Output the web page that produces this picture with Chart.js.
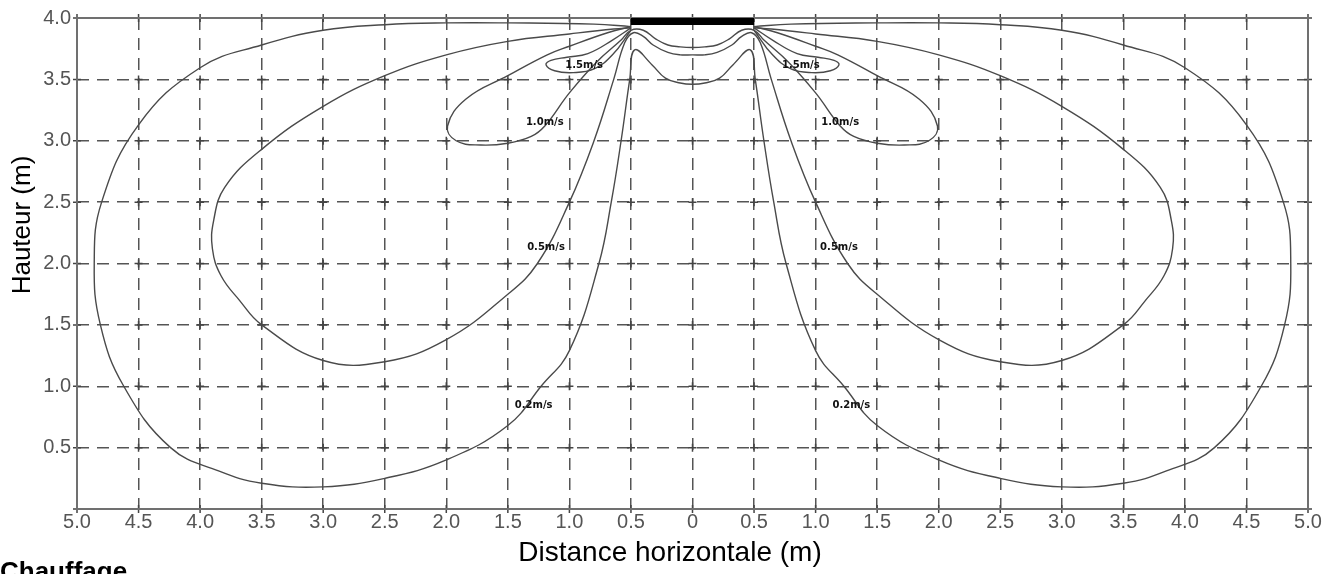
<!DOCTYPE html>
<html lang="fr">
<head>
    <meta charset="UTF-8">
    <title>Vitesses d'air - chauffage</title>
    <script src="https://cdn.jsdelivr.net/npm/chart.js"></script>
    <style>
        html, body { margin: 0; padding: 0; background: #fff; }
        #wrap { position: relative; width: 1342px; height: 574px; }
    </style>
</head>
<body>
<div id="wrap"><canvas id="myChart"></canvas></div>
<script>
    // Contours, left half only (x <= 0).
    // Each path starts at the heater corner, goes round the loop and ends at x = 0.
    const contour02 = [
        [-0.50, 3.93], [-0.80, 3.95], [-1.50, 3.96], [-2.00, 3.96], [-2.50, 3.945],
        [-3.00, 3.90], [-3.50, 3.78], [-4.00, 3.595], [-4.50, 3.13], [-4.80, 2.50],
        [-4.86, 2.00], [-4.81, 1.50], [-4.62, 1.00], [-4.24, 0.50], [-3.85, 0.31],
        [-3.50, 0.21], [-3.00, 0.18], [-2.50, 0.25], [-2.00, 0.40], [-1.50, 0.68],
        [-1.23, 1.00], [-1.00, 1.29], [-0.76, 2.00], [-0.66, 2.50], [-0.58, 3.00],
        [-0.51, 3.50], [-0.47, 3.74], [-0.33, 3.62], [-0.22, 3.51], [-0.10, 3.47],
        [0, 3.46]
    ];
    const contour05 = [
        [-0.50, 3.92], [-0.64, 3.91], [-1.00, 3.87], [-1.50, 3.81], [-2.00, 3.70],
        [-2.50, 3.53], [-3.00, 3.28], [-3.50, 2.93], [-3.80, 2.62], [-3.89, 2.35],
        [-3.90, 2.12], [-3.83, 1.90], [-3.68, 1.70], [-3.50, 1.50], [-3.00, 1.21],
        [-2.50, 1.20], [-2.00, 1.38], [-1.50, 1.75], [-1.26, 2.00], [-1.00, 2.50],
        [-0.80, 3.00], [-0.64, 3.50], [-0.55, 3.80], [-0.48, 3.88], [-0.40, 3.85],
        [-0.32, 3.78], [-0.20, 3.72], [-0.10, 3.70], [0, 3.70]
    ];
    const contour10 = [
        [-0.50, 3.93], [-0.69, 3.88], [-1.00, 3.77], [-1.18, 3.70], [-1.50, 3.53],
        [-1.84, 3.34], [-1.99, 3.12], [-1.92, 3.00], [-1.72, 2.965], [-1.50, 2.98],
        [-1.31, 3.035], [-1.20, 3.12], [-1.00, 3.39], [-0.78, 3.64], [-0.58, 3.82],
        [-0.50, 3.90], [-0.40, 3.90], [-0.30, 3.83], [-0.20, 3.78], [-0.10, 3.765],
        [0, 3.76]
    ];
    const contour15 = [
        [-0.50, 3.92], [-0.65, 3.82], [-0.85, 3.71], [-1.02, 3.68], [-1.15, 3.655],
        [-1.19, 3.62], [-1.12, 3.57], [-0.97, 3.555], [-0.80, 3.585], [-0.65, 3.70],
        [-0.50, 3.90]
    ];

    // contour labels (|x|, y), same on both sides
    const labelText = ['1.5m/s', '1.0m/s', '0.5m/s', '0.2m/s'];
    const labelX = [0.88, 1.20, 1.19, 1.29];
    const labelY = [3.61, 3.15, 2.13, 0.84];

    // the heater (black bar at the ceiling)
    const heaterX = [-0.5, 0.5];
    const heaterY = 3.972;

    const xTickLabels = ['5.0', '4.5', '4.0', '3.5', '3.0', '2.5', '2.0', '1.5', '1.0', '0.5', '0',
                         '0.5', '1.0', '1.5', '2.0', '2.5', '3.0', '3.5', '4.0', '4.5', '5.0'];
    const yTickLabels = ['', '0.5', '1.0', '1.5', '2.0', '2.5', '3.0', '3.5', '4.0'];

    // left half -> full symmetric path
    function fullPath(left) {
        const right = left.slice(0, -1).reverse().map(p => [-p[0], p[1]]);
        return left.concat(right).map(p => ({ x: p[0], y: p[1] }));
    }
    function toPoints(arr, sign) {
        return arr.map(p => ({ x: sign * p[0], y: p[1] }));
    }

    Chart.defaults.font.family = "'Liberation Sans', Arial, sans-serif";

    const lineStyle = {
        pointRadius: 0, borderColor: '#4a4a4a', borderWidth: 1.4,
        tension: 0.42, fill: false
    };

    // frame, grid crosses, texts
    const decor = {
        id: 'decor',
        beforeDatasetsDraw(chart) {
            const { ctx, chartArea: a, scales: { x, y } } = chart;
            ctx.save();
            ctx.strokeStyle = '#444';
            ctx.lineWidth = 1.5;
            x.ticks.forEach(tx => {
                y.ticks.forEach(ty => {
                    const px = x.getPixelForValue(tx.value);
                    const py = y.getPixelForValue(ty.value);
                    ctx.beginPath();
                    ctx.moveTo(px - 4, py); ctx.lineTo(px + 4, py);
                    ctx.moveTo(px, py - 4); ctx.lineTo(px, py + 4);
                    ctx.stroke();
                });
            });
            ctx.strokeStyle = '#707070';
            ctx.lineWidth = 2;
            ctx.strokeRect(a.left, a.top, a.right - a.left, a.bottom - a.top);
            ctx.restore();
        },
        afterDatasetsDraw(chart) {
            const { ctx, scales: { x, y } } = chart;
            ctx.save();
            ctx.font = "bold 10px 'DejaVu Sans'";
            ctx.fillStyle = '#111';
            ctx.textAlign = 'center';
            ctx.textBaseline = 'middle';
            labelText.forEach((t, i) => {
                ctx.fillText(t, x.getPixelForValue(-labelX[i]), y.getPixelForValue(labelY[i]));
                ctx.fillText(t, x.getPixelForValue(labelX[i]), y.getPixelForValue(labelY[i]));
            });

            ctx.fillStyle = '#000';
            ctx.font = "28px 'Liberation Sans', Arial, sans-serif";
            ctx.textAlign = 'center';
            ctx.textBaseline = 'alphabetic';
            ctx.fillText('Distance horizontale (m)', 670, 561);

            ctx.font = "26px 'Liberation Sans', Arial, sans-serif";
            ctx.save();
            ctx.translate(30, 225);
            ctx.rotate(-Math.PI / 2);
            ctx.fillText('Hauteur (m)', 0, 0);
            ctx.restore();

            ctx.font = "bold 26px 'Liberation Sans', Arial, sans-serif";
            ctx.textAlign = 'left';
            ctx.textBaseline = 'top';
            ctx.fillText('Chauffage', 0, 560);
            ctx.restore();
        }
    };

    const ctx = document.getElementById('myChart').getContext('2d');
    const chart = new Chart(ctx, {
        type: 'line',
        data: {
            datasets: [
                { ...lineStyle, label: '0.2 m/s', data: fullPath(contour02) },
                { ...lineStyle, label: '0.5 m/s', data: fullPath(contour05) },
                { ...lineStyle, label: '1.0 m/s', data: fullPath(contour10) },
                { ...lineStyle, label: '1.5 m/s (g)', data: toPoints(contour15, 1) },
                { ...lineStyle, label: '1.5 m/s (d)', data: toPoints(contour15, -1) },
                {
                    label: 'Chauffage', pointRadius: 0,
                    borderColor: '#000', borderWidth: 7, tension: 0,
                    data: heaterX.map(v => ({ x: v, y: heaterY }))
                }
            ]
        },
        options: {
            animation: false,
            responsive: true,
            maintainAspectRatio: false,
            layout: { padding: { top: 15, right: 34, bottom: 0, left: 0 } },
            plugins: { legend: { display: false }, tooltip: { enabled: false } },
            scales: {
                x: {
                    type: 'linear', min: -5, max: 5,
                    afterFit: s => { s.height = 65; },
                    ticks: {
                        stepSize: 0.5, autoSkip: false, maxRotation: 0, padding: 1,
                        color: '#555', font: { size: 20 },
                        callback: (v, i) => xTickLabels[i]
                    },
                    grid: { color: '#555', lineWidth: 1.5, drawTicks: false },
                    border: { display: false, dash: [12, 8] }
                },
                y: {
                    type: 'linear', min: 0, max: 4,
                    afterFit: s => { s.width = 77; },
                    ticks: {
                        stepSize: 0.5, padding: 6,
                        color: '#555', font: { size: 20 },
                        callback: (v, i) => yTickLabels[i]
                    },
                    grid: { color: '#555', lineWidth: 1.5, drawTicks: false },
                    border: { display: false, dash: [12, 8] }
                }
            }
        },
        plugins: [decor]
    });
</script>
</body>
</html>
